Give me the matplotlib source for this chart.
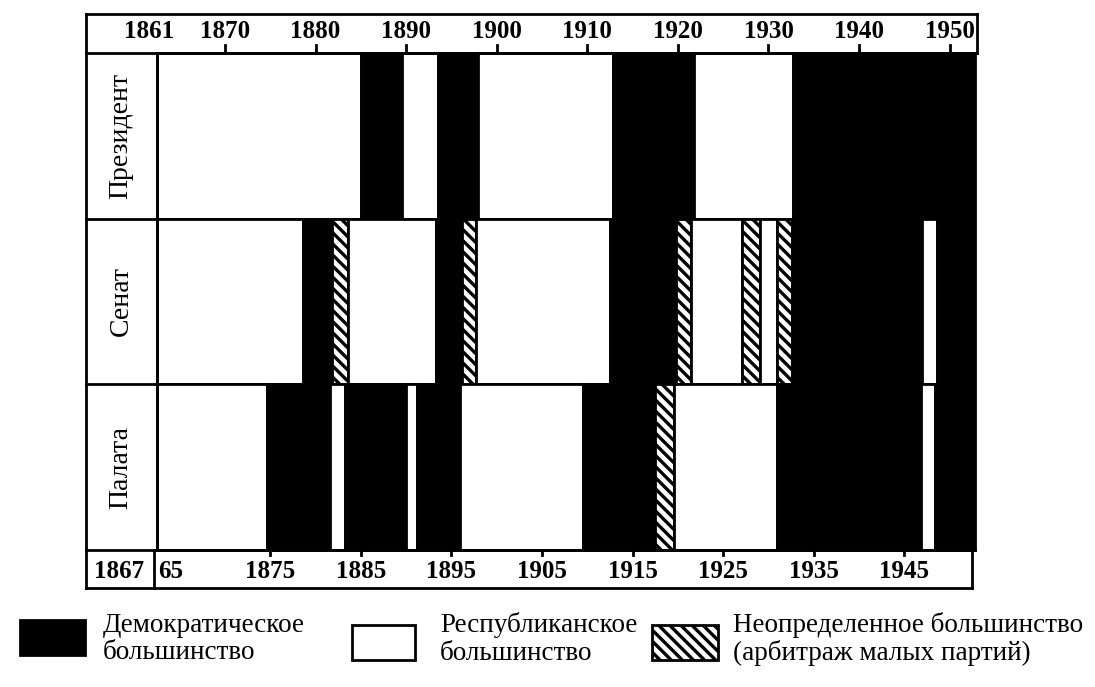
import matplotlib
matplotlib.use('Agg')
import matplotlib.pyplot as plt
from matplotlib.patches import Rectangle
from matplotlib.lines import Line2D
from matplotlib.transforms import blended_transform_factory

plt.rcParams['font.family'] = ['Liberation Serif', 'DejaVu Serif']
plt.rcParams['hatch.linewidth'] = 2.4

# ---------------- data ----------------
row_names = ['Президент', 'Сенат', 'Палата']

pres_edges = [1862.5, 1885.0, 1889.6, 1893.5, 1897.9, 1912.8, 1921.8, 1932.7, 1952.8]
pres_party = ['R', 'D', 'R', 'D', 'R', 'D', 'R', 'D']

senate_edges = [1862.5, 1878.6, 1881.8, 1883.6, 1893.3, 1896.2, 1897.7, 1912.5,
                1919.8, 1921.4, 1927.1, 1929.1, 1930.9, 1932.6, 1947.0, 1948.6, 1952.8]
senate_party = ['R', 'D', 'U', 'R', 'D', 'U', 'R', 'D',
                'U', 'R', 'U', 'R', 'U', 'D', 'R', 'D']

house_edges = [1862.5, 1874.6, 1881.6, 1883.2, 1890.0, 1891.2, 1895.9, 1909.5,
               1917.5, 1919.6, 1930.9, 1946.8, 1948.4, 1952.8]
house_party = ['R', 'D', 'R', 'D', 'R', 'D', 'R', 'D', 'U', 'R', 'D', 'R', 'D']

top_years = [1870, 1880, 1890, 1900, 1910, 1920, 1930, 1940, 1950]
top_labels = ['1870', '1880', '1890', '1900', '1910', '1920', '1930', '1940', '1950']
first_label = '1861'

bottom_ticks = [1875, 1885, 1895, 1905, 1915, 1925, 1935, 1945]
bottom_labels = ['65', '1875', '1885', '1895', '1905', '1915', '1925', '1935', '1945']
bottom_label_years = [1864, 1875, 1885, 1895, 1905, 1915, 1925, 1935, 1945]
corner_label = '1867'

legend_labels = ['Демократическое\nбольшинство',
                 'Республиканское\nбольшинство',
                 'Неопределенное большинство\n(арбитраж малых партий)']

# ---------------- layout helpers ----------------
W, H = 1095, 687
def fx(x):
    return x / W
def fy(y):
    return 1 - y / H

fig = plt.figure(figsize=(W / 100, H / 100), dpi=100)
fig.patch.set_facecolor('white')

PL, PR, PT, PB = 157, 975, 53, 550   # plot area (px)
ax = fig.add_axes([fx(PL), fy(PB), fx(PR) - fx(PL), fy(PT) - fy(PB)])
ax.set_xlim(pres_edges[0], pres_edges[-1])
ax.set_ylim(3, 0)
ax.set_xticks([])
ax.set_yticks([])
for s in ax.spines.values():
    s.set_linewidth(2)
    s.set_color('black')

HATCH = '\\\\\\'
style = {
    'D': dict(facecolor='black', hatch=None),
    'R': dict(facecolor='white', hatch=None),
    'U': dict(facecolor='white', hatch=HATCH),
}

for i, (edges, parties) in enumerate([(pres_edges, pres_party),
                                      (senate_edges, senate_party),
                                      (house_edges, house_party)]):
    lefts = edges[:-1]
    widths = [b - a for a, b in zip(edges[:-1], edges[1:])]
    bars = ax.barh([i + 0.5] * len(lefts), widths, left=lefts, height=1.0,
                   edgecolor='black', linewidth=2.0)
    for p, party in zip(bars, parties):
        p.set_facecolor(style[party]['facecolor'])
        if style[party]['hatch']:
            p.set_hatch(style[party]['hatch'])

ffig = fig.transFigure
xdata_yfig = blended_transform_factory(ax.transData, fig.transFigure)
xfig_ydata = blended_transform_factory(fig.transFigure, ax.transData)

# outer frame pieces
LEFT, RIGHT_TOP, RIGHT_BOT = 86, 977, 972
TOP_T, BOT_B = 14, 588

def hline(x0, x1, y, lw=2):
    fig.add_artist(Line2D([fx(x0), fx(x1)], [fy(y), fy(y)], color='black', lw=lw, transform=ffig))
def vline(x, y0, y1, lw=2):
    fig.add_artist(Line2D([fx(x), fx(x)], [fy(y0), fy(y1)], color='black', lw=lw, transform=ffig))

# top box
hline(LEFT, RIGHT_TOP, TOP_T)
hline(LEFT, RIGHT_TOP, PT)
vline(LEFT, TOP_T, BOT_B)
vline(RIGHT_TOP, TOP_T, PT)
# bottom box
hline(LEFT, RIGHT_BOT, PB)
hline(LEFT, RIGHT_BOT, BOT_B)
vline(RIGHT_BOT, PB, BOT_B)
vline(PL - 3, PB, BOT_B)
# left column
vline(PL, PT, PB)
for yb in [1, 2]:
    fig.add_artist(Line2D([fx(LEFT), fx(PL)], [yb, yb], color='black', lw=2,
                          transform=xfig_ydata))

NUM = dict(fontsize=18, fontweight='bold', ha='center', va='center')

# top labels and ticks
fig.text(fx(149), fy(32), first_label, **NUM)
for yr, lab in zip(top_years, top_labels):
    fig.text(yr, fy(32), lab, transform=xdata_yfig, **NUM)
    fig.add_artist(Line2D([yr, yr], [fy(PT), fy(PT - 8)], color='black', lw=2,
                          transform=xdata_yfig))

# bottom labels and ticks
for yr in bottom_ticks:
    fig.add_artist(Line2D([yr, yr], [fy(PB), fy(PB + 5)], color='black', lw=2,
                          transform=xdata_yfig))
for yr, lab in zip(bottom_label_years, bottom_labels):
    fig.text(yr, fy(572), lab, transform=xdata_yfig, **NUM)
fig.text(fx(119), fy(572), corner_label, **NUM)

# row labels
for i, name in enumerate(row_names):
    fig.text(fx(121), i + 0.5, name, ha='center', va='center', rotation=90,
             fontsize=20, transform=xfig_ydata)

# legend
def legend_box(x0, x1, y0, y1, face, hatch=None):
    r = Rectangle((fx(x0), fy(y1)), fx(x1) - fx(x0), fy(y0) - fy(y1),
                  transform=ffig, facecolor=face, edgecolor='black', lw=2,
                  hatch=hatch)
    fig.add_artist(r)

legend_box(20, 85, 620, 655, 'black')
legend_box(352, 415, 625, 660, 'white')
legend_box(652, 718, 625, 660, 'white', hatch=HATCH)
for xt, lab in zip([103, 440, 733], legend_labels):
    fig.text(fx(xt), fy(639), lab, ha='left', va='center', fontsize=19.5,
             linespacing=1.15)

fig.savefig('out.png', dpi=100, facecolor='white')
